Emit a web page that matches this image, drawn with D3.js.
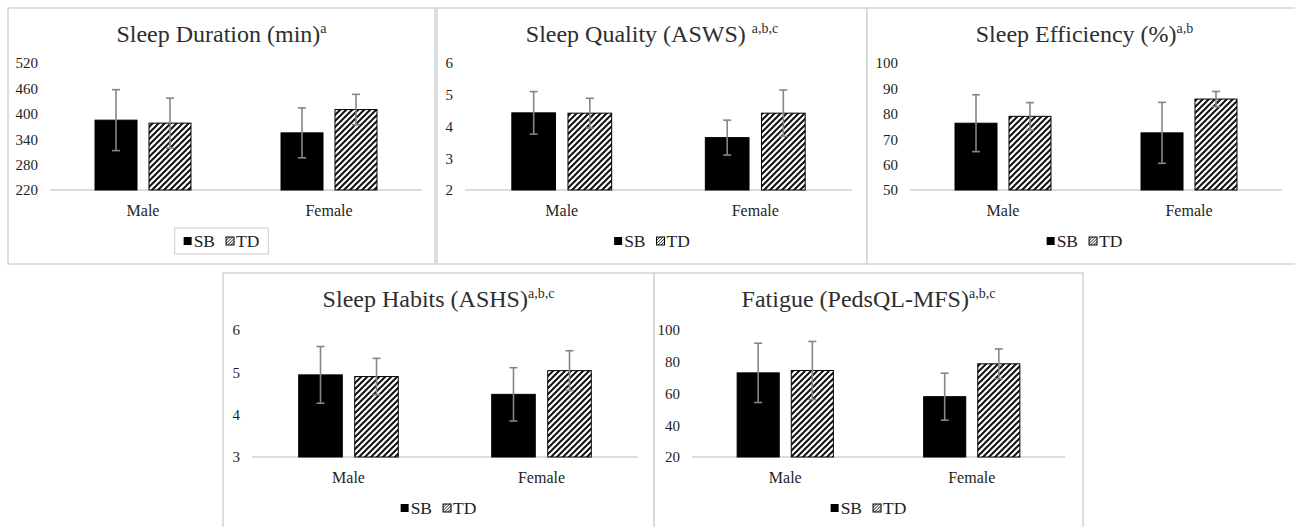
<!DOCTYPE html>
<html><head><meta charset="utf-8">
<script src="https://cdn.jsdelivr.net/npm/d3@7"></script>
<style>html,body{margin:0;padding:0;background:#fff;} svg{display:block;}</style>
</head><body>
<svg id="c" width="1295" height="527"></svg>
<script>
// ---------- DATA ----------
const categories = ["Male", "Female"];
const seriesNames = ["SB", "TD"];
const titles = ["Sleep Duration (min)", "Sleep Quality (ASWS) ", "Sleep Efficiency (%)", "Sleep Habits (ASHS)", "Fatigue (PedsQL-MFS)"];
const superscripts = ["a", "a,b,c", "a,b", "a,b,c", "a,b,c"];
const sbMeans = [[385, 355], [4.43, 3.65], [76.3, 72.5], [4.94, 4.48], [73, 58]];
const sbSD    = [[72, 59], [0.67, 0.55], [11.2, 12], [0.67, 0.63], [18.7, 14.8]];
const tdMeans = [[378, 410], [4.42, 4.42], [79, 85.8], [4.90, 5.04], [74.5, 78.7]];
const tdSD    = [[59, 36], [0.47, 0.73], [5.4, 3], [0.43, 0.47], [18.3, 9.4]];
const yTicks = [[220, 280, 340, 400, 460, 520], [2, 3, 4, 5, 6], [50, 60, 70, 80, 90, 100], [3, 4, 5, 6], [20, 40, 60, 80, 100]];

// ---------- LAYOUT ----------
const layout = [
  {box: [8, 8, 435, 264], ax: [50, 422], ay: [63, 190], legendBox: true},
  {box: [437, 8, 867, 264], ax: [465, 852], ay: [63, 190]},
  {box: [867, 8, 1302, 264], ax: [910, 1282], ay: [63, 190]},
  {box: [223, 273, 654, 534], ax: [252, 638], ay: [330, 457]},
  {box: [654, 273, 1083, 534], ax: [692, 1065], ay: [330, 457]}
];
const FONT = '"Liberation Serif", "Times New Roman", Tinos, serif';
const svg = d3.select("#c");
const defs = svg.append("defs");
const pat = defs.append("pattern").attr("id", "hatch").attr("patternUnits", "userSpaceOnUse")
  .attr("width", 6).attr("height", 6);
pat.append("rect").attr("width", 6).attr("height", 6).attr("fill", "#fff");
pat.append("path").attr("d", "M-1.5,1.5 L1.5,-1.5 M0,6 L6,0 M4.5,7.5 L7.5,4.5")
  .attr("stroke", "#111").attr("stroke-width", 2);
const patS = defs.append("pattern").attr("id", "hatchS").attr("patternUnits", "userSpaceOnUse")
  .attr("width", 3).attr("height", 3);
patS.append("rect").attr("width", 3).attr("height", 3).attr("fill", "#fff");
patS.append("path").attr("d", "M-0.75,0.75 L0.75,-0.75 M0,3 L3,0 M2.25,3.75 L3.75,2.25")
  .attr("stroke", "#222").attr("stroke-width", 1);

layout.forEach((L, i) => {
  const g = svg.append("g");
  const [bx0, by0, bx1, by1] = L.box;
  g.append("rect").attr("x", bx0).attr("y", by0).attr("width", bx1 - bx0).attr("height", by1 - by0)
    .attr("fill", "#fff").attr("stroke", "#d4d4d4").attr("stroke-width", 1.5);

  const ticks = yTicks[i];
  const y = d3.scaleLinear().domain([ticks[0], ticks[ticks.length - 1]]).range([L.ay[1], L.ay[0]]);
  const x0 = d3.scaleBand().domain(categories).range(L.ax).padding(0);
  const bw = x0.bandwidth();
  const x1 = d3.scaleBand().domain(seriesNames).range([bw * 0.242, bw * 0.758]).paddingInner(0.222);

  // title
  const cx = (bx0 + bx1) / 2;
  const t = g.append("text").attr("x", cx).attr("y", by0 + 34).attr("text-anchor", "middle")
    .style("font-family", FONT).style("font-size", "24px").attr("fill", "#2e2e2e");
  t.append("tspan").text(titles[i]);
  t.append("tspan").attr("dy", -9).style("font-size", "14px").text(superscripts[i]);

  // y axis labels
  const yAxis = d3.axisLeft(y).tickValues(ticks).tickSize(0).tickPadding(0).tickFormat(d3.format("d"));
  const ya = g.append("g").attr("transform", `translate(${L.ax[0] - 12},0)`).call(yAxis);
  ya.select(".domain").remove();
  ya.selectAll("text").style("font-family", FONT).style("font-size", "15px").attr("fill", "#1e1e1e");

  // baseline
  g.append("line").attr("x1", L.ax[0]).attr("x2", L.ax[1]).attr("y1", y(ticks[0])).attr("y2", y(ticks[0]))
    .attr("stroke", "#d0d0d0").attr("stroke-width", 1.5);

  // bars
  const rows = [];
  categories.forEach((c, ci) => {
    rows.push({c, s: "SB", m: sbMeans[i][ci], sd: sbSD[i][ci]});
    rows.push({c, s: "TD", m: tdMeans[i][ci], sd: tdSD[i][ci]});
  });
  g.selectAll("rect.bar").data(rows).join("rect").attr("class", "bar")
    .attr("x", d => x0(d.c) + x1(d.s)).attr("width", x1.bandwidth())
    .attr("y", d => y(d.m)).attr("height", d => y(ticks[0]) - y(d.m))
    .attr("fill", d => d.s === "SB" ? "#000" : "url(#hatch)")
    .attr("stroke", "#000").attr("stroke-width", 1);

  // error bars
  const eg = g.selectAll("g.err").data(rows).join("g").attr("class", "err")
    .attr("stroke", "#858585").attr("stroke-width", 1.6);
  eg.append("line").attr("x1", d => x0(d.c) + x1(d.s) + x1.bandwidth() / 2)
    .attr("x2", d => x0(d.c) + x1(d.s) + x1.bandwidth() / 2)
    .attr("y1", d => y(d.m + d.sd)).attr("y2", d => y(d.m - d.sd));
  [1, -1].forEach(sg => {
    eg.append("line").attr("x1", d => x0(d.c) + x1(d.s) + x1.bandwidth() / 2 - 4)
      .attr("x2", d => x0(d.c) + x1(d.s) + x1.bandwidth() / 2 + 4)
      .attr("y1", d => y(d.m + sg * d.sd)).attr("y2", d => y(d.m + sg * d.sd));
  });

  // category labels
  g.selectAll("text.cat").data(categories).join("text").attr("class", "cat")
    .attr("x", d => x0(d) + bw / 2).attr("y", y(ticks[0]) + 26).attr("text-anchor", "middle")
    .style("font-family", FONT).style("font-size", "16px").attr("fill", "#1e1e1e").text(d => d);

  // legend
  const lg = g.append("g");
  let xx = 0;
  seriesNames.forEach((s, si) => {
    lg.append("rect").attr("x", xx).attr("y", -10).attr("width", 8).attr("height", 8)
      .attr("fill", s === "SB" ? "#000" : "url(#hatchS)").attr("stroke", "#000").attr("stroke-width", s === "SB" ? 0 : 1);
    const tx = lg.append("text").attr("x", xx + 10).attr("y", 0).style("font-family", FONT)
      .style("font-size", "17.5px").attr("fill", "#1e1e1e").text(s);
    xx += 10 + tx.node().getComputedTextLength() + 11;
  });
  const bb = lg.node().getBBox();
  const ly = y(ticks[0]) + 57;
  lg.attr("transform", `translate(${cx - bb.width / 2 - bb.x},${ly})`);
  if (L.legendBox) {
    g.insert("rect", () => lg.node()).attr("x", cx - bb.width / 2 - 9).attr("y", ly - 19)
      .attr("width", bb.width + 18).attr("height", 26).attr("fill", "none")
      .attr("stroke", "#d4d4d4").attr("stroke-width", 1.2);
  }
});
</script>
</body></html>
